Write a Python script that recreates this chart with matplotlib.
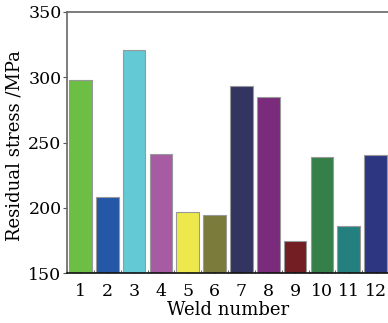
import matplotlib
matplotlib.use("Agg")
import matplotlib.pyplot as plt
from matplotlib.ticker import FixedLocator

welds = ["1", "2", "3", "4", "5", "6", "7", "8", "9", "10", "11", "12"]
stress = [297.7, 208, 320.9, 241.2, 196.5, 194.2, 293.5, 285.1, 174.5, 238.6, 186, 240.4]
colors = ["#6cbf44", "#2457a5", "#62c9d5", "#a65ba3", "#ede84c", "#7b7b3b",
          "#33345f", "#7a2b7c", "#721e22", "#358049", "#23807f", "#2d3781"]
yticks = [150, 200, 250, 300, 350]

plt.rcParams['font.family'] = ['DejaVu Serif']
fig = plt.figure(figsize=(3.88, 3.23), dpi=100)
ax = fig.add_axes([67/388, 1 - 273/323, (389 - 67)/388, (273 - 12)/323])

x = list(range(1, len(welds) + 1))
ax.bar(x, [s - 150 for s in stress], bottom=150, width=0.84, color=colors,
       edgecolor="#999999", linewidth=0.8, zorder=2)

ax.set_xlim(0.5, 12.5)
ax.set_ylim(150, 350)
ax.set_yticks(yticks)
ax.set_xticks(x)
ax.set_xticklabels(welds)
ax.xaxis.set_minor_locator(FixedLocator([i + 0.5 for i in range(0, 12)]))
ax.tick_params(axis='x', which='major', direction='in', length=4, width=0.8,
               labelsize=12.5, pad=7, color="#222222")
ax.tick_params(axis='x', which='minor', direction='in', length=2, width=0.6, color="#444444")
ax.tick_params(axis='y', which='major', direction='out', length=3, width=0.8,
               labelsize=12.5, pad=1, color="#555555")
for sp in ax.spines.values():
    sp.set_color("#666666")
    sp.set_linewidth(1.2)
ax.spines['bottom'].set_color("#111111")
ax.spines['bottom'].set_zorder(3)

ax.set_xlabel("Weld number", fontsize=13, labelpad=1)
ax.set_ylabel("Residual stress /MPa", fontsize=13)
ax.yaxis.set_label_coords(-0.134, 0.49)

fig.savefig("out.png", dpi=100)
